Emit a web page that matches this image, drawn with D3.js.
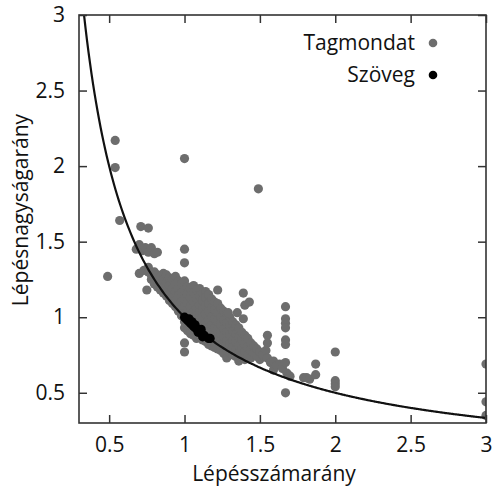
<!DOCTYPE html>
<html>
<head>
<meta charset="utf-8">
<script src="https://cdn.jsdelivr.net/npm/d3@7"></script>
<style>
  body { margin: 0; background: #fff; }
  text { font-family: "Open Sans", sans-serif; fill: #111; }
</style>
</head>
<body>
<svg id="SVG_CONTAINER" width="494" height="490"></svg>
<script>
// series names (legend)
const seriesNames = ["Tagmondat", "Szöveg"];

// axis ticks
const xTicks = [0.5, 1, 1.5, 2, 2.5, 3];
const yTicks = [0.5, 1, 1.5, 2, 2.5, 3];

// Tagmondat points [lépésszámarány, lépésnagyságarány]
const tagmondatPoints = [
    // scattered ones
    [0.49,1.27],[0.54,2.17],[0.54,1.99],[0.57,1.64],[0.71,1.60],[0.76,1.59],
    [1.00,2.05],[1.49,1.85],[1.00,1.45],[1.00,1.36],[0.70,1.29],[0.75,1.18],
    [1.00,0.83],[1.00,0.77],
    // little group top left
    [0.68,1.45],[0.70,1.48],[0.72,1.44],[0.74,1.46],[0.76,1.43],[0.78,1.46],
    [0.80,1.42],[0.82,1.43],
    // main band
    [0.73,1.31],[0.76,1.30],[0.76,1.33],[0.78,1.28],[0.78,1.25],
    [0.80,1.30],[0.80,1.26],[0.80,1.22],[0.82,1.28],[0.82,1.24],[0.82,1.20],
    [0.84,1.27],[0.84,1.22],[0.84,1.18],[0.86,1.29],[0.86,1.25],[0.86,1.20],[0.86,1.16],
    [0.88,1.28],[0.88,1.23],[0.88,1.18],[0.88,1.14],[0.90,1.26],[0.90,1.21],[0.90,1.15],[0.90,1.11],
    [0.92,1.25],[0.92,1.19],[0.92,1.13],[0.92,1.09],
    [0.94,1.27],[0.94,1.22],[0.94,1.17],[0.94,1.11],[0.94,1.07],
    [0.96,1.24],[0.96,1.19],[0.96,1.14],[0.96,1.08],[0.96,1.04],
    [0.98,1.22],[0.98,1.16],[0.98,1.10],[0.98,1.05],[0.98,1.01],
    [1.00,1.24],[1.00,1.18],[1.00,1.12],[1.00,1.07],[1.00,1.02],[1.00,0.97],[1.00,0.93],
    [1.02,1.20],[1.02,1.15],[1.02,1.09],[1.02,1.04],[1.02,0.95],[1.02,0.91],
    [1.04,1.19],[1.04,1.13],[1.04,1.07],[1.04,1.02],[1.04,0.93],[1.04,0.89],
    [1.06,1.21],[1.06,1.16],[1.06,1.10],[1.06,1.04],[1.06,0.99],[1.06,0.91],[1.06,0.88],
    [1.08,1.18],[1.08,1.12],[1.08,1.06],[1.08,1.01],[1.08,0.96],[1.08,0.89],[1.08,0.86],
    [1.10,1.19],[1.10,1.14],[1.10,1.08],[1.10,1.03],[1.10,0.97],[1.10,0.87],
    [1.12,1.16],[1.12,1.11],[1.12,1.05],[1.12,1.00],[1.12,0.94],[1.12,0.85],
    [1.14,1.17],[1.14,1.13],[1.14,1.07],[1.14,1.02],[1.14,0.96],[1.14,0.91],[1.14,0.84],
    [1.16,1.15],[1.16,1.09],[1.16,1.04],[1.16,0.98],[1.16,0.93],[1.16,0.82],
    [1.18,1.12],[1.18,1.06],[1.18,1.00],[1.18,0.95],[1.18,0.90],[1.18,0.81],
    [1.20,1.10],[1.20,1.05],[1.20,0.99],[1.20,0.93],[1.20,0.88],[1.20,0.80],
    [1.22,1.09],[1.22,1.03],[1.22,0.97],[1.22,0.91],[1.22,0.86],[1.22,0.79],
    [1.24,1.06],[1.24,1.00],[1.24,0.95],[1.24,0.89],[1.24,0.84],[1.24,0.78],
    [1.26,1.04],[1.26,0.98],[1.26,0.92],[1.26,0.87],[1.26,0.80],[1.26,0.76],
    [1.28,1.02],[1.28,0.96],[1.28,0.90],[1.28,0.85],[1.28,0.79],[1.28,0.73],
    [1.30,1.00],[1.30,0.94],[1.30,0.88],[1.30,0.82],[1.30,0.77],
    [1.32,0.97],[1.32,0.91],[1.32,0.85],[1.32,0.80],[1.32,0.75],
    [1.34,0.95],[1.34,0.89],[1.34,0.84],[1.34,0.78],[1.34,0.74],
    [1.36,0.93],[1.36,0.87],[1.36,0.81],[1.36,0.76],[1.36,0.71],
    [1.38,0.90],[1.38,0.85],[1.38,0.79],[1.38,0.74],
    [1.40,0.88],[1.40,0.82],[1.40,0.77],[1.40,0.72],
    [1.42,0.86],[1.42,0.80],[1.42,0.75],[1.44,0.83],[1.44,0.78],[1.44,0.73],
    [1.46,0.81],[1.46,0.76],[1.48,0.79],[1.48,0.74],[1.50,0.77],[1.50,0.72],
    // right of the band
    [1.22,1.18],[1.29,1.03],[1.35,1.03],[1.39,1.16],[1.40,1.08],[1.43,1.10],[1.39,0.99],
    [1.55,0.88],[1.55,0.83],
    [1.67,1.07],[1.67,0.99],[1.67,0.96],[1.67,0.93],[1.67,0.85],[1.67,0.82],[1.67,0.50],
    [1.52,0.75],[1.54,0.78],[1.55,0.73],[1.57,0.70],[1.59,0.71],[1.59,0.65],[1.61,0.68],
    [1.63,0.69],[1.65,0.66],[1.67,0.70],[1.68,0.63],[1.70,0.61],
    [1.79,0.60],[1.81,0.60],[1.83,0.59],[1.87,0.69],[1.87,0.62],
    [2.00,0.77],[2.00,0.58],[2.00,0.56],[2.00,0.54],
    [3.00,0.69],[3.00,0.44],[3.00,0.35]
];

// Szöveg points
const szovegPoints = [
    [1.00,1.00],[1.01,0.99],[1.02,0.98],[1.03,0.97],[1.04,0.96],[1.05,0.95],
    [1.06,0.94],[1.07,0.93],[1.08,0.925],[1.09,0.92],[1.10,0.91],[1.11,0.90],
    [1.13,0.88],[1.16,0.86],[1.17,0.86],
    [1.03,0.99],[1.05,0.97],[1.07,0.95],[1.09,0.90],[1.11,0.92],[1.12,0.87]
];

const width = 494, height = 490;
const MARGIN = { LEFT: 79, RIGHT: 8, TOP: 15, BOTTOM: 67 };

var svg = d3.select("#SVG_CONTAINER");

var xScale = d3.scaleLinear()
    .domain([0.3, 3])
    .range([MARGIN.LEFT, width - MARGIN.RIGHT]);

var yScale = d3.scaleLinear()
    .domain([0.3, 3])
    .range([height - MARGIN.BOTTOM, MARGIN.TOP]);

svg.append("defs").append("clipPath").attr("id", "plotClip")
    .append("rect")
    .attr("x", MARGIN.LEFT).attr("y", MARGIN.TOP)
    .attr("width", width - MARGIN.LEFT - MARGIN.RIGHT)
    .attr("height", height - MARGIN.TOP - MARGIN.BOTTOM);

var plot = svg.append("g").attr("clip-path", "url(#plotClip)");

// grey points
plot.selectAll(".tag")
    .data(tagmondatPoints)
    .enter()
    .append("circle")
    .attr("class", "tag")
    .attr("cx", d => xScale(d[0]))
    .attr("cy", d => yScale(d[1]))
    .attr("r", 4.6)
    .attr("fill", "#6d6d6d");

// y = 1/x reference curve
var curveX = d3.range(1 / 3, 3.001, 0.01);
var line = d3.line()
    .x(d => xScale(d))
    .y(d => yScale(1 / d))
    .curve(d3.curveBasis);
plot.append("path")
    .attr("d", line(curveX))
    .attr("fill", "none")
    .attr("stroke", "#111")
    .attr("stroke-width", 2.2);

// black points
plot.selectAll(".szov")
    .data(szovegPoints)
    .enter()
    .append("circle")
    .attr("class", "szov")
    .attr("cx", d => xScale(d[0]))
    .attr("cy", d => yScale(d[1]))
    .attr("r", 4.6)
    .attr("fill", "#000");

// axes, ticks pointing inward on all four sides
var tickLen = 8;
var fmt = d3.format("~g");
var xAxis = d3.axisBottom(xScale).tickValues(xTicks).tickFormat(fmt).tickSizeInner(-tickLen).tickSizeOuter(0).tickPadding(14);
var yAxis = d3.axisLeft(yScale).tickValues(yTicks).tickFormat(fmt).tickSizeInner(-tickLen).tickSizeOuter(0).tickPadding(14);
var xAxisTop = d3.axisTop(xScale).tickValues(xTicks).tickSizeInner(-tickLen).tickSizeOuter(0).tickFormat("");
var yAxisRight = d3.axisRight(yScale).tickValues(yTicks).tickSizeInner(-tickLen).tickSizeOuter(0).tickFormat("");

function styleAxis(g) {
    g.select(".domain").remove();
    g.selectAll(".tick line").attr("stroke", "#333").attr("stroke-width", 1.5);
    g.selectAll(".tick text")
        .style("font-family", "'Open Sans', sans-serif")
        .style("font-size", "21px")
        .attr("fill", "#111");
}

svg.append("g")
    .attr("transform", "translate(0," + (height - MARGIN.BOTTOM) + ")")
    .call(xAxis).call(styleAxis);
svg.append("g")
    .attr("transform", "translate(" + MARGIN.LEFT + ",0)")
    .call(yAxis).call(styleAxis);
svg.append("g")
    .attr("transform", "translate(0," + MARGIN.TOP + ")")
    .call(xAxisTop).call(styleAxis);
svg.append("g")
    .attr("transform", "translate(" + (width - MARGIN.RIGHT) + ",0)")
    .call(yAxisRight).call(styleAxis);

// frame
svg.append("rect")
    .attr("x", MARGIN.LEFT).attr("y", MARGIN.TOP)
    .attr("width", width - MARGIN.LEFT - MARGIN.RIGHT)
    .attr("height", height - MARGIN.TOP - MARGIN.BOTTOM)
    .attr("fill", "none")
    .attr("stroke", "#333")
    .attr("stroke-width", 1.6);

// axis titles
svg.append("text")
    .attr("x", 274).attr("y", 481)
    .attr("text-anchor", "middle")
    .style("font-size", "21px")
    .text("Lépésszámarány");

svg.append("text")
    .attr("transform", "translate(28,210) rotate(-90)")
    .attr("text-anchor", "middle")
    .style("font-size", "21px")
    .text("Lépésnagyságarány");

// legend
var legendColors = ["#6d6d6d", "#000"];
var legend = svg.append("g");
seriesNames.forEach(function (name, i) {
    legend.append("text")
        .attr("x", 415).attr("y", 50 + i * 32)
        .attr("text-anchor", "end")
        .style("font-size", "21px")
        .text(name);
    legend.append("circle")
        .attr("cx", 433).attr("cy", 43 + i * 32)
        .attr("r", 4.3)
        .attr("fill", legendColors[i]);
});
</script>
</body>
</html>
